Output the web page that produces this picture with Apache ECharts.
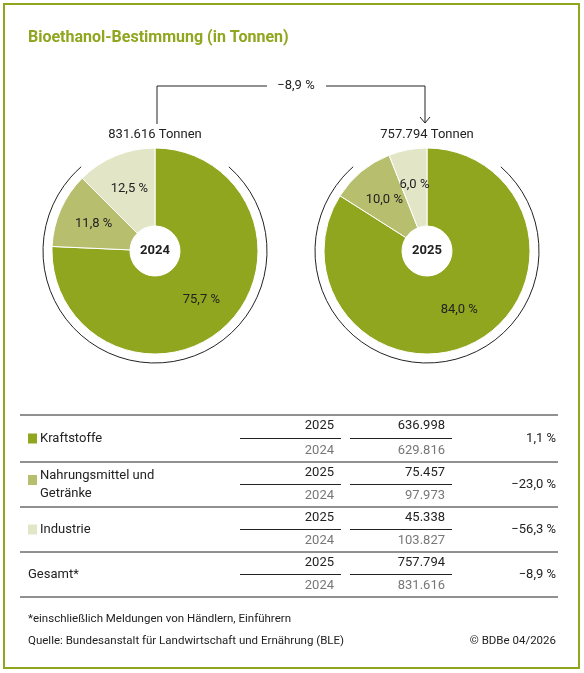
<!DOCTYPE html>
<html><head><meta charset="utf-8">
<script src="https://cdn.jsdelivr.net/npm/echarts@6/dist/echarts.min.js"></script>
<style>html,body{margin:0;padding:0;background:#fff}#c{width:584px;height:673px}</style>
</head><body><div id="c"></div>
<script>
const categories = ['Kraftstoffe', 'Nahrungsmittel und\nGetränke', 'Industrie'];
const colors = ['#8fa61e', '#b7bf6e', '#e3e6c6'];
const share2024 = [75.7, 11.8, 12.5];
const share2025 = [84.0, 10.0, 6.0];
const values2025 = ['636.998', '75.457', '45.338'];
const values2024 = ['629.816', '97.973', '103.827'];
const changes = ['1,1 %', '−23,0 %', '−56,3 %'];
const total2025 = '757.794', total2024 = '831.616', totalChange = '−8,9 %';
const years = ['2024', '2025'];

const F = 'Roboto, "Noto Sans", sans-serif';
const chart = echarts.init(document.getElementById('c'));
function pieSeries(cx, shares) {
  return {
    type: 'pie', center: [cx, 251], radius: [25, 103], startAngle: 90, clockwise: true,
    silent: true, animation: false,
    itemStyle: { borderColor: '#fff', borderWidth: 1 },
    label: { show: true, position: 'inside', color: '#222', fontFamily: F, fontSize: 13,
      formatter: p => p.value.toFixed(1).replace('.', ',') + ' %' },
    labelLine: { show: false },
    data: shares.map((v, i) => ({ value: v, name: categories[i], itemStyle: { color: colors[i] } }))
  };
}
const g = [];
const txt = (x, y, text, o) => g.push({ type: 'text', x, y, style: Object.assign({ text, fontFamily: F, fontSize: 13, fill: '#222', textVerticalAlign: 'middle' }, o || {}) });
const ln = (x1, y1, x2, y2, c, w) => g.push({ type: 'line', shape: { x1, y1, x2, y2 }, style: { stroke: c || '#222', lineWidth: w || 1 } });
// border
g.push({ type: 'rect', shape: { x: 4, y: 4, width: 575, height: 664 }, style: { fill: 'none', stroke: '#8fa61e', lineWidth: 2 } });
txt(28, 38, 'Bioethanol-Bestimmung (in Tonnen)', { fill: '#8fa61e', fontSize: 16, fontWeight: 'bold' });
// rings & centers
[155, 427].forEach((cx, k) => {
  g.push({ type: 'arc', shape: { cx, cy: 251, r: 112, startAngle: -Math.PI / 2 + 0.72, endAngle: -Math.PI / 2 - 0.72, clockwise: true }, style: { stroke: '#222', lineWidth: 1, fill: 'none' } });
  txt(cx, 251, years[k], { textAlign: 'center', fontWeight: 'bold', fontSize: 13 });
  txt(cx, 135, (k ? total2025 : total2024) + ' Tonnen', { textAlign: 'center' });
});
// arrow
ln(157, 124, 157, 86); ln(157, 86, 267, 86); ln(326, 86, 425, 86); ln(425, 86, 425, 123);
g.push({ type: 'polyline', shape: { points: [[420, 117], [425, 123], [430, 117]] }, style: { stroke: '#222', fill: 'none' } });
txt(296, 86, totalChange, { textAlign: 'center' });
// table
const rowTop = [415, 462, 507, 552, 597];
rowTop.forEach(y => ln(20, y, 558, y, '#222', 1));
const labels = categories.concat(['Gesamt*']);
const v25 = values2025.concat([total2025]), v24 = values2024.concat([total2024]), ch = changes.concat([totalChange]);
for (let i = 0; i < 4; i++) {
  const t = rowTop[i], b = rowTop[i + 1], mid = (t + b) / 2;
  ln(240, mid, 341, mid); ln(350, mid, 452, mid);
  txt(334, t + 11, '2025', { textAlign: 'right' });
  txt(334, b - 11, '2024', { textAlign: 'right', fill: '#777' });
  txt(445, t + 11, v25[i], { textAlign: 'right' });
  txt(445, b - 11, v24[i], { textAlign: 'right', fill: '#777' });
  txt(556, mid, ch[i], { textAlign: 'right' });
  if (i < 3) g.push({ type: 'rect', shape: { x: 28, y: (i === 1 ? t + 13 : mid - 5), width: 9, height: 10 }, style: { fill: colors[i] } });
  txt(i < 3 ? 40 : 28, i === 1 ? mid : mid, labels[i], { lineHeight: 18 });
}
txt(28, 619, '*einschließlich Meldungen von Händlern, Einführern', { fontSize: 11.5 });
txt(28, 641, 'Quelle: Bundesanstalt für Landwirtschaft und Ernährung (BLE)', { fontSize: 11.5 });
txt(556, 641, '© BDBe 04/2026', { fontSize: 11.5, textAlign: 'right' });

chart.setOption({
  animation: false,
  series: [pieSeries(155, share2024), pieSeries(427, share2025)],
  graphic: g
});
</script></body></html>
